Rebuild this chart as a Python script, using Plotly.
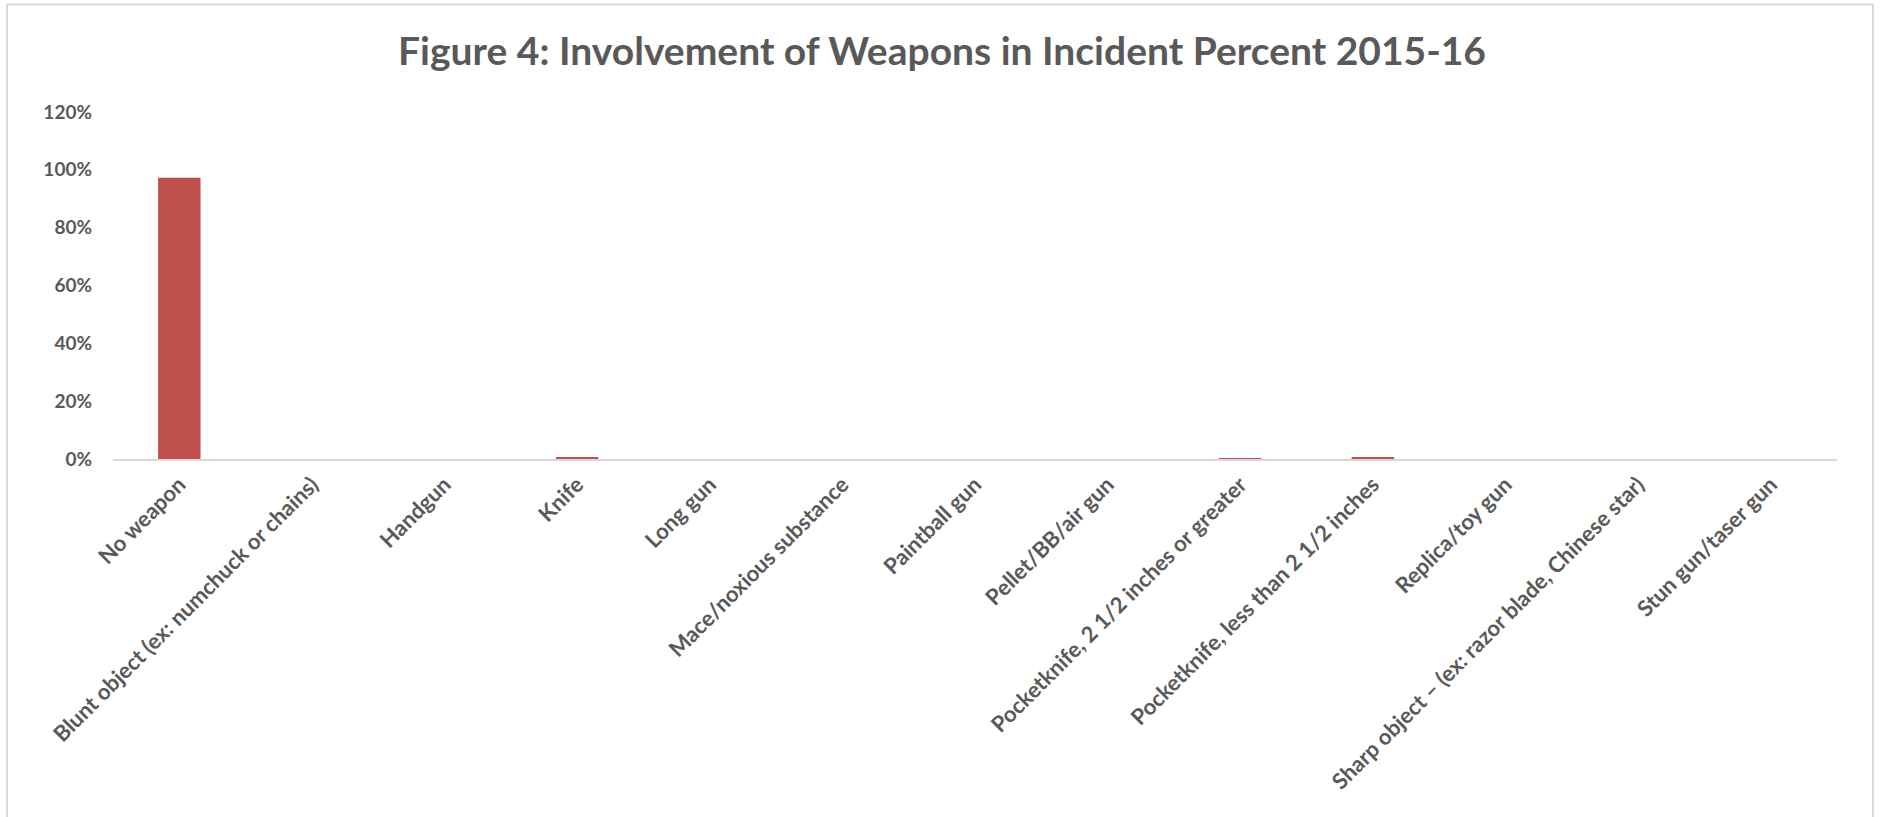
import plotly.graph_objects as go

categories = [
    "No weapon",
    "Blunt object (ex: numchuck or chains)",
    "Handgun",
    "Knife",
    "Long gun",
    "Mace/noxious substance",
    "Paintball gun",
    "Pellet/BB/air gun",
    "Pocketknife, 2 1/2 inches or greater",
    "Pocketknife, less than 2 1/2 inches",
    "Replica/toy gun",
    "Sharp object – (ex: razor blade, Chinese star)",
    "Stun gun/taser gun",
]
values = [0.973, 0.0, 0.0, 0.006, 0.0, 0.0, 0.0, 0.0, 0.002, 0.004, 0.0, 0.0, 0.0]
y_ticks = [0, 0.2, 0.4, 0.6, 0.8, 1.0, 1.2]
y_tick_labels = ["0%", "20%", "40%", "60%", "80%", "100%", "120%"]

W, H = 1881, 817
L, T = 113, 112
R = W - 1837
B = H - 459
pw, ph = W - L - R, H - T - B

TEXT = "#595959"
FONT = "Lato"

fig = go.Figure(go.Bar(
    x=categories, y=values,
    marker=dict(color="#C0504D", line=dict(width=0)),
    hoverinfo="x+y",
))

def px_x(p):
    return (p - L) / pw

def px_y(p):
    return (H - B - p) / ph

# light grey outer chart frame
fig.add_shape(type="rect", xref="paper", yref="paper",
              x0=px_x(7), x1=px_x(1873), y0=px_y(860), y1=px_y(4.5),
              line=dict(color="#D9D9D9", width=2), fillcolor="rgba(0,0,0,0)",
              layer="below")

fig.update_layout(
    width=W, height=H,
    margin=dict(l=L, r=R, t=T, b=B, autoexpand=False),
    paper_bgcolor="white", plot_bgcolor="white",
    bargap=0.68,
    showlegend=False,
    title=dict(
        text="Figure 4: Involvement of Weapons in Incident Percent 2015-16",
        x=942 / W, xref="container", xanchor="center",
        y=1 - 51 / H, yref="container", yanchor="middle",
        font=dict(family=FONT, size=39, color=TEXT, weight=700),
    ),
    xaxis=dict(
        type="category",
        tickangle=-45,
        showline=True, linecolor="#D9D9D9", linewidth=2,
        showgrid=False, zeroline=False, ticks="",
        tickfont=dict(family=FONT, size=22, color=TEXT, weight=700),
        ticklabelstandoff=2,
    ),
    yaxis=dict(
        range=[0, 1.2],
        tickvals=y_ticks, ticktext=y_tick_labels,
        showgrid=False, zeroline=False, showline=False, ticks="",
        tickfont=dict(family=FONT, size=19, color=TEXT, weight=700),
        ticklabelstandoff=20,
    ),
)

fig.write_html(
    "out.html",
    config={"displayModeBar": False},
    post_script="document.body.style.margin='0px';",
)
